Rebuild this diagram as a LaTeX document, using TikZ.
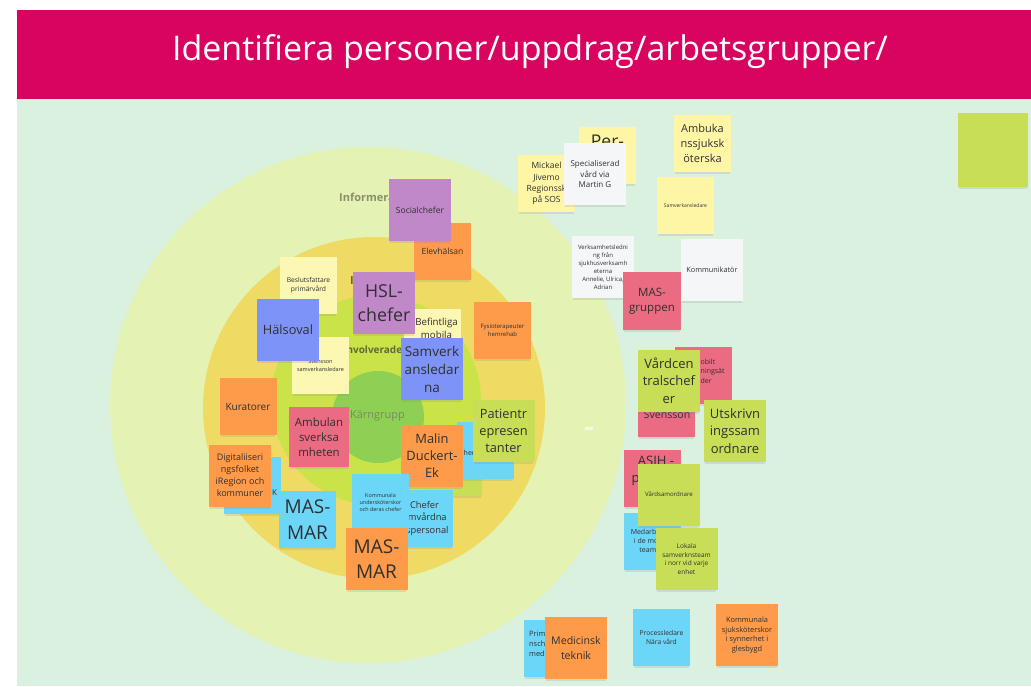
\documentclass[tikz,border=0pt]{standalone}
\usepackage{fontspec}
\setmainfont{Open Sans}
\usepackage{tikz}
\usepackage{xcolor}
\usetikzlibrary{shadows}
\newcommand{\fsz}[1]{\fontsize{#1}{\fpeval{1.33*#1}}\selectfont}
\definecolor{bannerpink}{HTML}{D80460}
\definecolor{boardgreen}{HTML}{D9F1DE}
\definecolor{ringouter}{HTML}{E4F2B4}
\definecolor{ringmid}{HTML}{EFDB63}
\definecolor{ringinner}{HTML}{C9E348}
\definecolor{ringcore}{HTML}{8ED053}
\definecolor{informerlabel}{HTML}{8C8E6A}
\definecolor{involvlabel}{HTML}{5E6B35}
\definecolor{karnlabel}{HTML}{7A8B62}
\definecolor{notetext}{HTML}{303030}
\definecolor{orangenote}{HTML}{FD9B4B}
\definecolor{purplenote}{HTML}{C088C9}
\definecolor{bluenote}{HTML}{7D93F7}
\definecolor{cyannote}{HTML}{6CD6F8}
\definecolor{pinknote}{HTML}{EA6B82}
\definecolor{limenote}{HTML}{C9DE57}
\definecolor{yellownote}{HTML}{FEF6A5}
\definecolor{creamnote}{HTML}{FDF7B4}
\definecolor{whitenote}{HTML}{F5F6F7}

\begin{document}
\begin{tikzpicture}[x=1pt, y=-1pt,
        note/.style={minimum width=#1, minimum height=#1, inner sep=1pt, align=center, text=notetext,
            drop shadow={shadow xshift=0pt, shadow yshift=-3.5pt, shadow scale=.96, opacity=.18}},
        note/.default=57,
        scrap/.style={inner sep=0pt, text=notetext},
        ringlabel/.style={font=\bfseries\fsz{11}, inner sep=0pt, anchor=west}]
                        \useasboundingbox (0, 0) rectangle (1031, 686);
                        \fill[white] (0, 0) rectangle (1031, 686);
                        \fill[boardgreen] (17, 99) rectangle (1031, 686);
                        \fill[bannerpink] (17, 10) rectangle (1031, 99);
                        \node[text=white, font=\fsz{34}] (title) at (530, 52) {Identifiera personer/uppdrag/arbetsgrupper/};

                        \fill[ringouter] (368, 405) circle[radius=258pt];
                        \fill[ringmid] (374, 408) circle[radius=171pt];
                        \fill[ringinner] (376, 400) circle[radius=105pt];
                        \fill[ringcore] (378, 417) circle[radius=46pt];
                        \node[ringlabel, text=informerlabel] (informerade) at (339, 197) {Informerade};
                        \node[ringlabel, text=involvlabel] (ringmidlabel) at (350, 281) {I};
                        \node[ringlabel, text=involvlabel, font=\bfseries\fsz{10}] (involverade) at (343, 350) {Involverade};
                        \node[text=karnlabel, font=\fsz{11}, inner sep=0pt] (karngrupp) at (377.5, 416) {Kärngrupp};

                        \node[note, fill=orangenote, font=\fsz{8.5}] (elevhalsan) at (442.5, 251.5) {Elevhälsan};
                        \node[note=62, fill=purplenote, font=\fsz{8.5}] (socialchefer) at (420, 210) {Socialchefer};
                        \node[note, fill=creamnote, font=\fsz{6.7}] (beslutsfattare) at (308.5, 285.5) {Beslutsfattare\\primärvård};
                        \node[note, fill=creamnote] (befintliga) at (432.5, 337.5) {};
                        \node[scrap, align=center, font=\fsz{9.7}] (befintligatext) at (436.5, 328.5) {Befintliga\\mobila};
                        \node[note=62, fill=purplenote, font=\fsz{17.8}] (hslchefer) at (384, 303) {HSL-\\chefer};
                        \node[note, fill=creamnote, font=\fsz{5.5}] (samvyellow) at (320.5, 365.5) {Svensson\\samverkansledare};
                        \node[note=62, fill=bluenote, font=\fsz{12.8}] (halsoval) at (288, 329.5) {Hälsoval};
                        \node[note, fill=orangenote, font=\fsz{6}] (fysioterapeuter) at (502.5, 330.5) {Fysioterapeuter\\hemrehab};
                        \node[note=62, fill=bluenote, font=\fsz{13.5}] (samverkansledarna) at (432, 369) {Samverk\\ansledar\\na};
                        \node[note, fill=orangenote, font=\fsz{10}] (kuratorer) at (248, 406.5) {Kuratorer};
                        \node[note=60, fill=pinknote, font=\fsz{11.4}] (ambulans) at (319, 437) {Ambulan\\sverksa\\mheten};
                        \node[note, fill=limenote] (limebehind) at (453.5, 467.5) {};
                        \node[note, fill=cyannote] (cyanbehind) at (485.5, 450.5) {};
                        \node[scrap, anchor=west, font=\fsz{7}] (cyanbehindtext) at (463.5, 453) {her};
                        \node[note=62, fill=limenote, font=\fsz{12.8}] (patientrep) at (503.5, 430.5) {Patientr\\epresen\\tanter};
                        \node[note=62, fill=orangenote, font=\fsz{12.9}] (malin) at (432, 455.5) {Malin\\Duckert-\\Ek};
                        \node[note, fill=cyannote] (cyank) at (252.5, 485.5) {};
                        \node[scrap, anchor=west, font=\fsz{8}] (cyanktext) at (272, 493) {K};
                        \node[note=62, fill=orangenote, font=\fsz{9}] (digitalisering) at (240, 475.5) {Digitaliiseri\\ngsfolket\\iRegion och\\kommuner};
                        \node[note, fill=cyannote, font=\fsz{19}] (masmarcyan) at (307.5, 519.5) {MAS-\\MAR};
                        \node[note, fill=cyannote, font=\fsz{9.3}] (chefer) at (424.5, 518.5) {Chefer\\omvårdna\\dspersonal};
                        \node[note, fill=cyannote, font=\fsz{5.4}] (underskoterskor) at (380.5, 502.5) {Kommunala\\undersköterskor\\och deras chefer};
                        \node[note=62, fill=orangenote, font=\fsz{19}] (masmarorange) at (376.5, 559) {MAS-\\MAR};

                        \node[note, fill=yellownote, font=\fsz{8.5}] (mickael) at (546.5, 183.5) {Mickael\\Jivemo\\Regionssk\\på SOS};
                        \node[note, fill=yellownote] (per) at (607.5, 155.5) {};
                        \node[scrap, anchor=base, font=\fsz{17.5}] (pertext) at (607.5, 147) {Per-};
                        \node[note=62, fill=whitenote, font=\fsz{8}] (specialiserad) at (595, 174) {Specialiserad\\vård via\\Martin G};
                        \node[note, fill=yellownote, font=\fsz{11}] (ambulanssjuksk) at (702.5, 143.5) {Ambuka\\nssjuksk\\öterska};
                        \node[note, fill=yellownote, font=\fsz{5}] (samverkansledare) at (685.5, 205.5) {Samverkansledare};
                        \node[note=62, fill=whitenote, font=\fsz{6}] (verksamhetsledning) at (603, 267) {Verksamhetsledni\\ng från\\sjukhusverksamh\\eterna\\Annelie, Ulrica,\\Adrian};
                        \node[note=62, fill=whitenote, font=\fsz{7.3}] (kommunikator) at (712, 269.5) {Kommunikatör};
                        \node[note=58, fill=pinknote, font=\fsz{11.5}] (masgruppen) at (652, 301) {MAS-\\gruppen};
                        \node[note, fill=pinknote] (pinkmobilt) at (703.5, 375.5) {};
                        \node[scrap, anchor=north west, align=left, font=\fsz{7}] (pinkmobilttext) at (700.5, 359) {obilt\\ningsät\\der};
                        \node[note, fill=pinknote] (pinksvensson) at (666.5, 408.5) {};
                        \node[scrap, font=\fsz{10.6}] (pinksvenssontext) at (667, 415) {Svensson};
                        \node[note=62, fill=limenote, font=\fsz{13}] (vardcentralschefer) at (669, 380.5) {Vårdcen\\tralschef\\er};
                        \node[note=62, fill=limenote, font=\fsz{13}] (utskrivning) at (735, 431) {Utskrivn\\ingssam\\ordnare};
                        \node[note, fill=pinknote] (asih) at (652.5, 478.5) {};
                        \node[scrap, anchor=base, font=\fsz{13}] (asihtext) at (656, 465) {ASIH -};
                        \node[scrap, anchor=base west, font=\fsz{13}] (asihtexttwo) at (631.5, 482) {p};
                        \node[note, fill=cyannote, font=\fsz{7}] (medarbetare) at (652, 541) {Medarbetare\\i de mobila\\teamen};
                        \node[note=62, fill=limenote, font=\fsz{6.1}] (vardsamordnare) at (669, 494.5) {Vårdsamordnare};
                        \node[note=62, fill=limenote, font=\fsz{6.5}] (lokala) at (686.5, 559) {Lokala\\samverknsteam\\i norr vid varje\\enhet};
                        \node[note, fill=cyannote] (prim) at (552.5, 648) {};
                        \node[scrap, anchor=north west, align=left, font=\fsz{7.4}] (primtext) at (529, 631) {Prim\\nsch\\med};
                        \node[note=62, fill=orangenote, font=\fsz{10.6}] (medicinsk) at (576, 648) {Medicinsk\\teknik};
                        \node[note, fill=cyannote, font=\fsz{6.7}] (processledare) at (661.5, 637.5) {Processledare\\Nära vård};
                        \node[note=62, fill=orangenote, font=\fsz{7.4}] (sjukskoterskor) at (747, 635) {Kommunala\\sjuksköterskor\\i synnerhet i\\glesbygd};
                        \node[note=70, minimum height=74, fill=limenote] (toppnote) at (993, 150) {};
                        \node[fill=white, opacity=.6, minimum width=8, minimum height=3, inner sep=0pt] (blank) at (589, 428) {};
                    \end{tikzpicture}
\end{document}
